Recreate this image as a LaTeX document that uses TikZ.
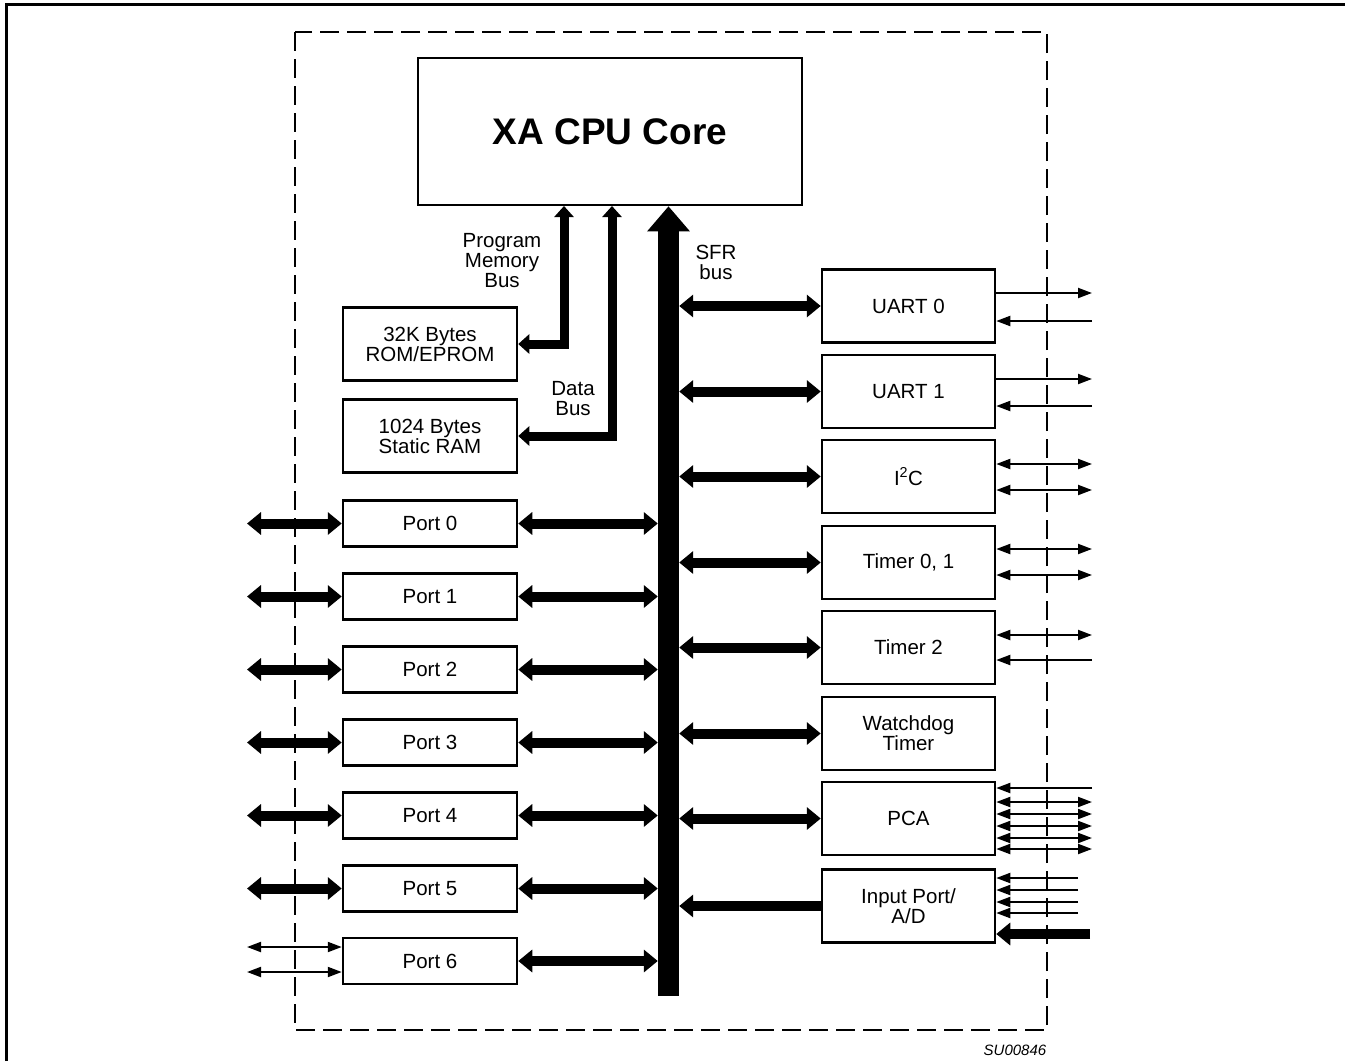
\documentclass[tikz,border=0pt]{standalone}
\usepackage{fontspec}
\setmainfont{Liberation Sans}
\usetikzlibrary{arrows.meta,positioning,calc}

\begin{document}
\begin{tikzpicture}[x=1pt,y=-1pt,
	blk/.style={draw, line width=2.5pt, minimum width=173pt, minimum height=73pt, inner sep=0pt, align=center, font=\fontsize{20.5}{20}\selectfont},
	portblk/.style={blk, minimum width=174pt, minimum height=46pt},
	lbl/.style={align=center, inner sep=0pt, font=\fontsize{20.5}{20}\selectfont},
	bus/.style={line width=10pt, {Triangle[length=14pt,width=22pt]}-{Triangle[length=14pt,width=22pt]}},
	busin/.style={line width=10pt, -{Triangle[length=14pt,width=22pt]}},
	membus/.style={line width=9pt, {Triangle[length=11pt,width=19pt]}-{Triangle[length=11pt,width=19pt]}},
	sig/.style={line width=2pt, -{Triangle[length=14pt,width=10pt]}},
	sigboth/.style={line width=2pt, {Triangle[length=14pt,width=10pt]}-{Triangle[length=14pt,width=10pt]}}]

				\useasboundingbox (0,0) rectangle (1345,1061);
				\draw[line width=3pt] (6,1061) -- (6,4) -- (1345,4);
				\draw[line width=2pt, dash pattern=on 19pt off 8pt] (295,32) rectangle (1047,1030);

				\node[draw, line width=2.5pt, minimum width=384pt, minimum height=147pt, font=\bfseries\fontsize{37}{37}\selectfont] (cpu) at (610,131.5) {XA CPU Core};

				% MEMORY

				\node[blk, minimum width=174pt] (rom) at (430,344) {32K Bytes\\ROM/EPROM};
				\node[blk, minimum width=174pt] (ram) at (430,436) {1024 Bytes\\Static RAM};

				\coordinate (pmb) at (564,206);
				\coordinate (dbus) at (612,206);
				\draw[membus] (rom.east) -| (pmb);
				\draw[membus] (ram.east) -| (dbus);

				\node[lbl] (pmblbl) at (502,261) {Program\\Memory\\Bus};
				\node[lbl] (dbuslbl) at (573,399) {Data\\Bus};

				% SFR BUS

				\node[fill, inner sep=0pt, minimum width=21pt, minimum height=766pt] (sfr) at (668.5,613) {};
				\draw[line width=21pt, -{Triangle[length=25pt,width=41pt]}] (sfr.center) -- (sfr.north |- cpu.south);
				\node[lbl] (sfrlbl) at (716,262) {SFR\\bus};

				% PORTS

				\node[portblk] (port0) at (430,523.5) {Port 0};
				\node[portblk] (port1) at (430,596.5) {Port 1};
				\node[portblk] (port2) at (430,669.5) {Port 2};
				\node[portblk] (port3) at (430,742.5) {Port 3};
				\node[portblk] (port4) at (430,815.5) {Port 4};
				\node[portblk] (port5) at (430,888.5) {Port 5};
				\node[portblk] (port6) at (430,961) {Port 6};

				\coordinate (pin0) at (247,523.5);
				\coordinate (pin1) at (247,596.5);
				\coordinate (pin2) at (247,669.5);
				\coordinate (pin3) at (247,742.5);
				\coordinate (pin4) at (247,815.5);
				\coordinate (pin5) at (247,888.5);
				\coordinate (pin6a) at (247,947);
				\coordinate (pin6b) at (247,972);

				\draw[bus] (pin0) -- (port0.west);
				\draw[bus] (pin1) -- (port1.west);
				\draw[bus] (pin2) -- (port2.west);
				\draw[bus] (pin3) -- (port3.west);
				\draw[bus] (pin4) -- (port4.west);
				\draw[bus] (pin5) -- (port5.west);
				\draw[sigboth] (pin6a) -- (port6.west |- pin6a);
				\draw[sigboth] (pin6b) -- (port6.west |- pin6b);

				\draw[bus] (port0.east) -- (sfr.west |- port0.east);
				\draw[bus] (port1.east) -- (sfr.west |- port1.east);
				\draw[bus] (port2.east) -- (sfr.west |- port2.east);
				\draw[bus] (port3.east) -- (sfr.west |- port3.east);
				\draw[bus] (port4.east) -- (sfr.west |- port4.east);
				\draw[bus] (port5.east) -- (sfr.west |- port5.east);
				\draw[bus] (port6.east) -- (sfr.west |- port6.east);

				% PERIPHERALS

				\node[blk] (uart0) at (908.5,306) {UART 0};
				\node[blk] (uart1) at (908.5,391.5) {UART 1};
				\node[blk] (iic) at (908.5,476.5) {I\textsuperscript{2}C};
				\node[blk] (timer01) at (908.5,562.5) {Timer 0, 1};
				\node[blk] (timer2) at (908.5,647.5) {Timer 2};
				\node[blk] (wdt) at (908.5,733.5) {Watchdog\\Timer};
				\node[blk] (pca) at (908.5,818.5) {PCA};
				\node[blk] (adc) at (908.5,906) {Input Port/\\A/D};

				\draw[bus] (sfr.east |- uart0.west) -- (uart0.west);
				\draw[bus] (sfr.east |- uart1.west) -- (uart1.west);
				\draw[bus] (sfr.east |- iic.west) -- (iic.west);
				\draw[bus] (sfr.east |- timer01.west) -- (timer01.west);
				\draw[bus] (sfr.east |- timer2.west) -- (timer2.west);
				\draw[bus] (sfr.east |- wdt.west) -- (wdt.west);
				\draw[bus] (sfr.east |- pca.west) -- (pca.west);
				\draw[busin] (adc.west) -- (sfr.east |- adc.west);

				% EXTERNAL PINS

				\coordinate (u0tx) at (1092,293);
				\coordinate (u0rx) at (1092,321);
				\coordinate (u1tx) at (1092,379);
				\coordinate (u1rx) at (1092,406);
				\coordinate (sda) at (1092,464);
				\coordinate (scl) at (1092,490);
				\coordinate (t0) at (1092,549);
				\coordinate (t1) at (1092,575);
				\coordinate (t2) at (1092,635);
				\coordinate (t2ex) at (1092,660);
				\coordinate (eci) at (1092,788);
				\coordinate (cex0) at (1092,802);
				\coordinate (cex1) at (1092,814);
				\coordinate (cex2) at (1092,826);
				\coordinate (cex3) at (1092,838);
				\coordinate (cex4) at (1092,849);
				\coordinate (an0) at (1078,878);
				\coordinate (an1) at (1078,890);
				\coordinate (an2) at (1078,902);
				\coordinate (an3) at (1078,913);
				\coordinate (avref) at (1090,934);

				\draw[sig] (uart0.east |- u0tx) -- (u0tx);
				\draw[sig] (u0rx) -- (uart0.east |- u0rx);
				\draw[sig] (uart1.east |- u1tx) -- (u1tx);
				\draw[sig] (u1rx) -- (uart1.east |- u1rx);
				\draw[sigboth] (iic.east |- sda) -- (sda);
				\draw[sigboth] (iic.east |- scl) -- (scl);
				\draw[sigboth] (timer01.east |- t0) -- (t0);
				\draw[sigboth] (timer01.east |- t1) -- (t1);
				\draw[sigboth] (timer2.east |- t2) -- (t2);
				\draw[sig] (t2ex) -- (timer2.east |- t2ex);
				\draw[sig] (eci) -- (pca.east |- eci);
				\draw[sigboth] (pca.east |- cex0) -- (cex0);
				\draw[sigboth] (pca.east |- cex1) -- (cex1);
				\draw[sigboth] (pca.east |- cex2) -- (cex2);
				\draw[sigboth] (pca.east |- cex3) -- (cex3);
				\draw[sigboth] (pca.east |- cex4) -- (cex4);
				\draw[sig] (an0) -- (adc.east |- an0);
				\draw[sig] (an1) -- (adc.east |- an1);
				\draw[sig] (an2) -- (adc.east |- an2);
				\draw[sig] (an3) -- (adc.east |- an3);
				\draw[busin] (avref) -- (adc.east |- avref);

				\node[font=\itshape\fontsize{15}{15}\selectfont] (code) at (1015,1050) {SU00846};
			\end{tikzpicture}
\end{document}
